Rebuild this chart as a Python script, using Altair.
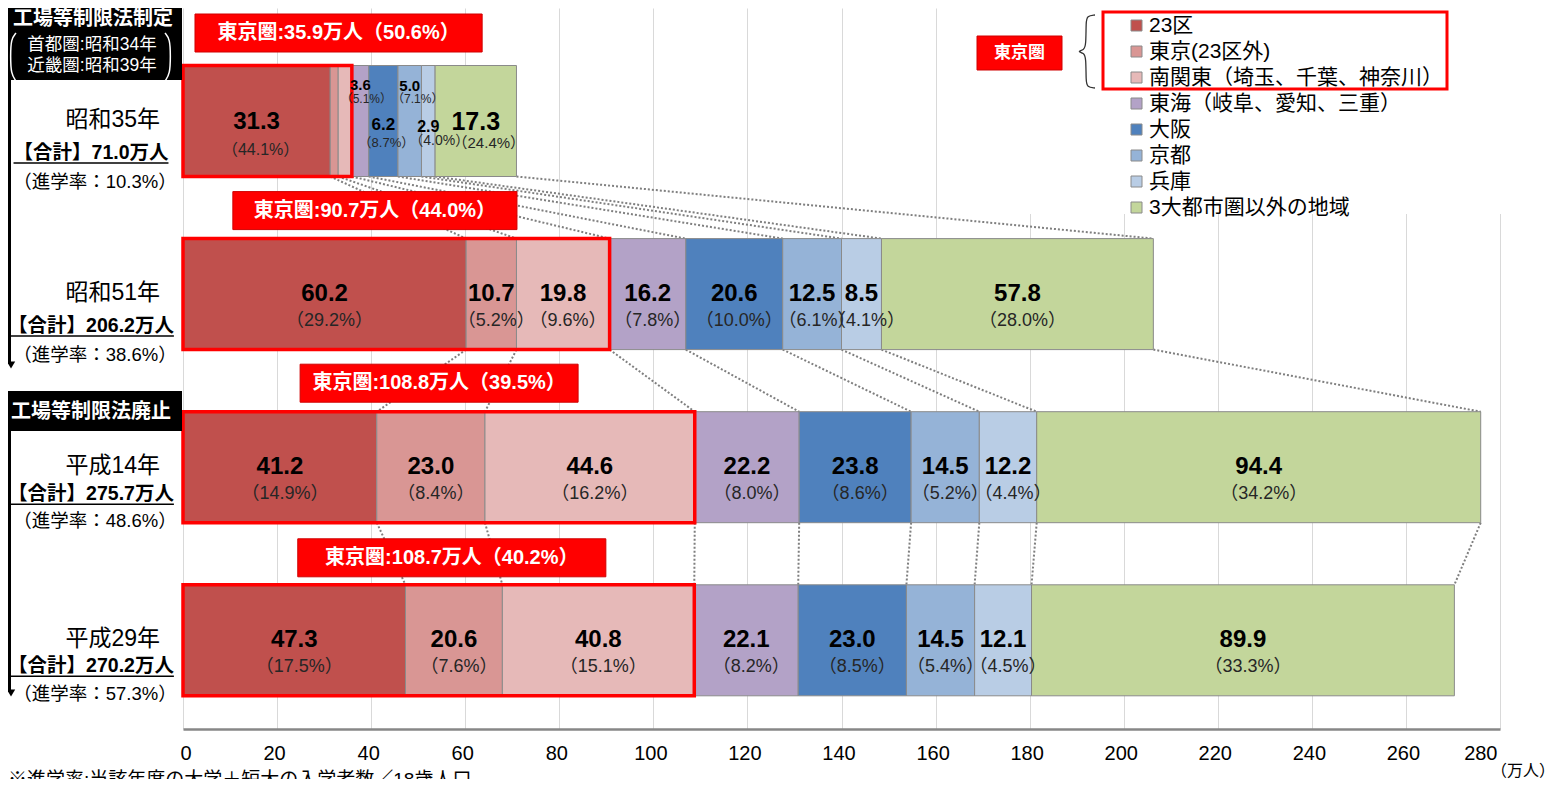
import altair as alt
import pandas as pd

# ---------------- data ----------------
regions = ["23区", "東京(23区外)", "南関東（埼玉、千葉、神奈川）", "東海（岐阜、愛知、三重）",
           "大阪", "京都", "兵庫", "3大都市圏以外の地域"]
colors = ["#C0504D", "#D99694", "#E6B9B8", "#B3A2C7", "#4F81BD", "#95B3D7", "#B9CDE5", "#C3D69B"]

years = ["昭和35年", "昭和51年", "平成14年", "平成29年"]
totals = [71.0, 206.2, 275.7, 270.2]
rates = [10.3, 38.6, 48.6, 57.3]
tokyo_totals = [35.9, 90.7, 108.8, 108.7]
tokyo_shares = [50.6, 44.0, 39.5, 40.2]

values_s35 = [31.3, 1.7, 2.9, 3.6, 6.2, 5.0, 2.9, 17.3]
values_s51 = [60.2, 10.7, 19.8, 16.2, 20.6, 12.5, 8.5, 57.8]
values_h14 = [41.2, 23.0, 44.6, 22.2, 23.8, 14.5, 12.2, 94.4]
values_h29 = [47.3, 20.6, 40.8, 22.1, 23.0, 14.5, 12.1, 89.9]

shares_s35 = [44.1, None, None, 5.1, 8.7, 7.1, 4.0, 24.4]
shares_s51 = [29.2, 5.2, 9.6, 7.8, 10.0, 6.1, 4.1, 28.0]
shares_h14 = [14.9, 8.4, 16.2, 8.0, 8.6, 5.2, 4.4, 34.2]
shares_h29 = [17.5, 7.6, 15.1, 8.2, 8.5, 5.4, 4.5, 33.3]

x_ticks = list(range(0, 281, 20))
footnote = "※進学率:当該年度の大学＋短大の入学者数／18歳人口"

all_values = [values_s35, values_s51, values_h14, values_h29]
all_shares = [shares_s35, shares_s51, shares_h14, shares_h29]

# ---------------- layout / style ----------------
FONT = "'Liberation Sans', 'Noto Sans CJK JP'"
W, H = 1317, 721
PXU = W / 280.0
ROW_STEP = 173.1
FIRST_ROW_PX = 113
Y_DOM = [-FIRST_ROW_PX / ROW_STEP, (H - FIRST_ROW_PX) / ROW_STEP]
HALF = 55.5 / ROW_STEP


def yrow(r, dpx=0.0):
    return r + dpx / ROW_STEP


def ypx(p):
    return Y_DOM[0] + p / ROW_STEP


def xpx(p):
    return p / PXU


xs = alt.Scale(domain=[0, 280], nice=False, zero=False)
ys = alt.Scale(domain=Y_DOM, reverse=True, nice=False, zero=False)
XAXIS = alt.Axis(values=x_ticks, format="d", title=None, grid=True, gridColor="#d9d9d9",
                 gridWidth=1, domain=True, domainColor="#878787", domainWidth=2.5,
                 ticks=False, labelFontSize=20, labelFont=FONT, labelColor="#000",
                 labelPadding=14, labelOffset=-3)

# label style: (value size, value dy, pct size, pct dy, pct dx)
DEFAULT_STYLE = (24, 0, 18, 27, 5)
ROW0_STYLE = {0: (24, 1, 16, 29, 4), 3: (15, -36, 12, -22, 6), 4: (17, 4, 13, 22, 3),
              5: (15, -35, 12, -22, 8), 6: (16, 6, 14, 20, 11), 7: (25, 1, 15, 22, 13)}
TK_BOX_X = [(2.55, 63.6), (10.6, 71.0), (24.9, 84.0), (24.4, 89.9)]
TK_BOX_DY = [-88, -83.5, -84, -82.5]
LEFT_DY_TOTAL = [32, 32, 27, 26]
LEFT_DY_RATE = [61, 61, 54, 54]

# ---------------- tables ----------------
bar_rows, val_rows, pct_rows = [], [], []
cum_ends = []
for r, (vals, shs) in enumerate(zip(all_values, all_shares)):
    c = 0.0
    ends = []
    for k, (v, s) in enumerate(zip(vals, shs)):
        x0, x1 = c, c + v
        c = x1
        ends.append(x1)
        bar_rows.append(dict(region=regions[k], x0=x0, x1=x1, y0=yrow(r) - HALF, y1=yrow(r) + HALF))
        if s is None:
            continue
        st = ROW0_STYLE.get(k, DEFAULT_STYLE) if r == 0 else DEFAULT_STYLE
        xc = (x0 + x1) / 2
        val_rows.append(dict(x=xc, y=yrow(r, st[1]), t=f"{v:.1f}", s=st[0]))
        pct_rows.append(dict(x=xc + xpx(st[4]), y=yrow(r, st[3]), t=f"（{s:.1f}%）", s=st[2]))
    cum_ends.append(ends)

bars_df = pd.DataFrame(bar_rows)
val_df = pd.DataFrame(val_rows)
pct_df = pd.DataFrame(pct_rows)

conn_rows = []
for r in range(3):
    for k in range(8):
        conn_rows.append(dict(xa=cum_ends[r][k], xb=cum_ends[r + 1][k],
                              ya=yrow(r) + HALF, yb=yrow(r + 1) - HALF))
conn_df = pd.DataFrame(conn_rows)

tk_df = pd.DataFrame([dict(x0=0, x1=t, y0=yrow(r) - HALF, y1=yrow(r) + HALF)
                      for r, t in enumerate(tokyo_totals)])
tkbox_df = pd.DataFrame([dict(x0=TK_BOX_X[r][0], x1=TK_BOX_X[r][1],
                              xc=(TK_BOX_X[r][0] + TK_BOX_X[r][1]) / 2,
                              y0=yrow(r, TK_BOX_DY[r] - 19), y1=yrow(r, TK_BOX_DY[r] + 19),
                              yc=yrow(r, TK_BOX_DY[r]),
                              t=f"東京圏:{tokyo_totals[r]:.1f}万人（{tokyo_shares[r]:.1f}%）")
                         for r in range(4)])


def text_width(s, fs):
    w = 0.0
    for ch in s:
        if ch.isdigit():
            w += 0.556 * fs
        elif ch == ".":
            w += 0.278 * fs
        else:
            w += fs
    return w


left_rows = []
for r in range(4):
    tot = f"【合計】{totals[r]:.1f}万人"
    hw = text_width(tot, 19.5) / 2
    left_rows.append(dict(yy=yrow(r, -1), yt=yrow(r, LEFT_DY_TOTAL[r]),
                          yr=yrow(r, LEFT_DY_RATE[r]), yu=yrow(r, LEFT_DY_TOTAL[r] + 10),
                          year=years[r], total=tot, rate=f"（進学率：{rates[r]:.1f}%）",
                          ux0=xpx(-92 - hw), ux1=xpx(-92 + hw)))
left_df = pd.DataFrame(left_rows)

# decorative curves (pixel shapes converted to data units)
brace_px = [(912, 7), (904, 8), (903, 14), (903, 37), (901, 42), (894, 43.5),
            (901, 45), (903, 50), (903, 73), (904, 79), (912, 80)]
brace_df = pd.DataFrame([dict(i=i, x=xpx(p[0]), y=ypx(p[1])) for i, p in enumerate(brace_px)])
bracket_px = {"l": [(-167, 25), (-172, 31), (-172.5, 48), (-172, 66), (-167, 73)],
              "r": [(-18, 25), (-13, 31), (-12.5, 48), (-13, 66), (-18, 73)]}
bracket_df = pd.DataFrame([dict(g=g, i=i, x=xpx(p[0]), y=ypx(p[1]))
                           for g, pts in bracket_px.items() for i, p in enumerate(pts)])


def X(f):
    return alt.X(f, type="quantitative", scale=xs, axis=XAXIS)


def Y(f):
    return alt.Y(f, type="quantitative", scale=ys, axis=None)


# ---------------- layers ----------------
one = pd.DataFrame({"a": [0]})

legend_bg = alt.Chart(one).mark_rect(color="white").encode(
    x=alt.value(777), x2=alt.value(1369), y=alt.value(0), y2=alt.value(206))

connectors = alt.Chart(conn_df).mark_rule(color="#7f7f7f", strokeWidth=2, strokeDash=[2, 2]).encode(
    x=X("xa"), x2="xb", y=Y("ya"), y2="yb")

bars = alt.Chart(bars_df).mark_rect(stroke="#8a8a8a", strokeWidth=1).encode(
    x=X("x0"), x2="x1:Q",
    y=Y("y0"), y2="y1:Q",
    color=alt.Color("region:N", scale=alt.Scale(domain=regions, range=colors),
                    legend=alt.Legend(orient="none", legendX=943, legendY=7, title=None,
                                      symbolType="square", symbolSize=121,
                                      symbolStrokeColor="#8a8a8a", symbolStrokeWidth=1,
                                      labelFontSize=21, labelFont=FONT, labelColor="#000",
                                      labelLimit=0, rowPadding=4, labelOffset=2, padding=0)),
)

tk_outline = alt.Chart(tk_df).mark_rect(fillOpacity=0, stroke="#FF0000", strokeWidth=3.5).encode(
    x=X("x0"), x2="x1", y=Y("y0"), y2="y1")

tk_boxes = alt.Chart(tkbox_df).mark_rect(color="#FF0000", stroke="#D00000", strokeWidth=1).encode(
    x=X("x0"), x2="x1", y=Y("y0"), y2="y1")
tk_text = alt.Chart(tkbox_df).mark_text(color="white", fontWeight="bold", fontSize=20, font=FONT,
                                        baseline="middle").encode(x=X("xc"), y=Y("yc"), text="t:N")

val_text = alt.Chart(val_df).mark_text(color="#000", fontWeight="bold", font="Liberation Sans",
                                       baseline="middle").encode(
    x=X("x"), y=Y("y"), text="t:N", size=alt.Size("s:Q", scale=None, legend=None))
pct_text = alt.Chart(pct_df).mark_text(color="#262626", font=FONT, baseline="middle").encode(
    x=X("x"), y=Y("y"), text="t:N", size=alt.Size("s:Q", scale=None, legend=None))

# left panel
panel_top = alt.Chart(one).mark_rect(color="black").encode(
    x=alt.value(-175), x2=alt.value(-1), y=alt.value(0), y2=alt.value(72))
panel_top_title = alt.Chart(one).mark_text(text="工場等制限法制定", color="white", fontWeight="bold",
                                           fontSize=20, font=FONT, baseline="middle").encode(
    x=alt.value(-90), y=alt.value(11))
panel_top_l1 = alt.Chart(one).mark_text(text="首都圏:昭和34年", color="white", fontSize=17.5, font=FONT,
                                        baseline="middle").encode(x=alt.value(-91), y=alt.value(37))
panel_top_l2 = alt.Chart(one).mark_text(text="近畿圏:昭和39年", color="white", fontSize=17.5, font=FONT,
                                        baseline="middle").encode(x=alt.value(-91), y=alt.value(58))
brackets = alt.Chart(bracket_df).mark_line(color="white", strokeWidth=1.5, interpolate="basis").encode(
    x=X("x"), y=Y("y"), detail="g:N", order="i:Q")
panel_mid = alt.Chart(one).mark_rect(color="black").encode(
    x=alt.value(-175), x2=alt.value(-1), y=alt.value(383), y2=alt.value(423))
panel_mid_title = alt.Chart(one).mark_text(text="工場等制限法廃止", color="white", fontWeight="bold",
                                           fontSize=20, font=FONT, baseline="middle").encode(
    x=alt.value(-92), y=alt.value(404))
arrow1 = alt.Chart(one).mark_rule(color="black", strokeWidth=3).encode(
    x=alt.value(-173.5), y=alt.value(70), y2=alt.value(356))
arrow2 = alt.Chart(one).mark_rule(color="black", strokeWidth=3).encode(
    x=alt.value(-173.5), y=alt.value(420), y2=alt.value(683))
head1 = alt.Chart(one).mark_point(shape="triangle-down", filled=True, color="black", size=70,
                                  opacity=1).encode(x=alt.value(-172), y=alt.value(357))
head2 = alt.Chart(one).mark_point(shape="triangle-down", filled=True, color="black", size=70,
                                  opacity=1).encode(x=alt.value(-172), y=alt.value(685))

year_text = alt.Chart(left_df).mark_text(align="right", baseline="middle", fontSize=23, font=FONT,
                                         color="#000").encode(x=alt.value(-23), y=Y("yy"), text="year:N")
total_text = alt.Chart(left_df).mark_text(align="center", baseline="middle", fontSize=19.5,
                                          fontWeight="bold", font=FONT, color="#000").encode(
    x=alt.value(-92), y=Y("yt"), text="total:N")
underline = alt.Chart(left_df).mark_rule(color="#000", strokeWidth=1.5).encode(
    x=X("ux0"), x2="ux1", y=Y("yu"))
rate_text = alt.Chart(left_df).mark_text(align="center", baseline="middle", fontSize=18.5, font=FONT,
                                         color="#000").encode(x=alt.value(-88), y=Y("yr"), text="rate:N")

# legend decorations
legend_box = alt.Chart(one).mark_rect(fillOpacity=0, stroke="#FF0000", strokeWidth=3).encode(
    x=alt.value(920), x2=alt.value(1264), y=alt.value(4), y2=alt.value(81))
tk_label_box = alt.Chart(one).mark_rect(color="#FF0000", stroke="#D00000", strokeWidth=1).encode(
    x=alt.value(794), x2=alt.value(879), y=alt.value(28), y2=alt.value(62))
tk_label = alt.Chart(one).mark_text(text="東京圏", color="white", fontWeight="bold", fontSize=17,
                                    font=FONT, baseline="middle").encode(x=alt.value(836.5), y=alt.value(45))
brace = alt.Chart(brace_df).mark_line(color="#333333", strokeWidth=1.3, interpolate="basis").encode(
    x=X("x"), y=Y("y"), order="i:Q")

unit_text = alt.Chart(one).mark_text(text="（万人）", fontSize=16, font=FONT, color="#000",
                                     baseline="middle").encode(x=alt.value(1340), y=alt.value(763))
foot_text = alt.Chart(one).mark_text(text=footnote, fontSize=19, font=FONT, color="#000",
                                     align="left", baseline="top").encode(x=alt.value(-175), y=alt.value(763))

chart = alt.layer(
    legend_bg, connectors, bars, tk_outline, tk_boxes, tk_text, val_text, pct_text,
    panel_top, panel_top_title, panel_top_l1, panel_top_l2, brackets,
    panel_mid, panel_mid_title, arrow1, arrow2, head1, head2,
    year_text, total_text, underline, rate_text,
    legend_box, tk_label_box, tk_label, brace, unit_text, foot_text,
).properties(
    width=W, height=H,
    autosize=alt.AutoSizeParams(type="none"),
    padding={"left": 175, "top": 0, "right": 52, "bottom": 50},
).configure_view(stroke=None)

chart.save("out.html", embed_options={"renderer": "svg", "actions": False})
